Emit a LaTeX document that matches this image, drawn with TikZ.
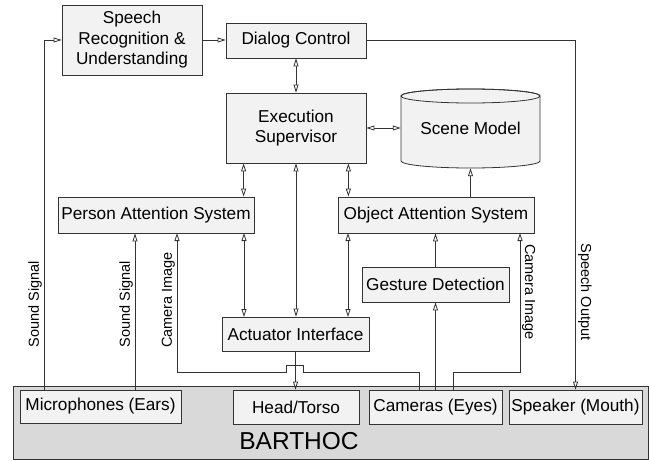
\documentclass[tikz,border=0pt]{standalone}
\usepackage{fontspec}
\setmainfont{Liberation Sans}
\usetikzlibrary{arrows.meta}
\definecolor{boxfill}{HTML}{F2F2F2}
\definecolor{basefill}{HTML}{D9D9D9}
\definecolor{linec}{HTML}{333333}
\begin{document}
\begin{tikzpicture}[x=1pt,y=-1pt,
  box/.style={draw=linec, fill=boxfill, line width=0.8pt, inner sep=1pt, align=center,
    font=\fontsize{17.2}{20.5}\selectfont},
  arr/.style={draw=linec, line width=0.8pt, -{Triangle[open,length=8pt,width=5pt,fill=white]}},
  dbl/.style={draw=linec, line width=0.8pt, {Triangle[open,length=8pt,width=5pt,fill=white]}-{Triangle[open,length=8pt,width=5pt,fill=white]}},
  lbl/.style={font=\fontsize{14.5}{16}\selectfont, inner sep=2pt},
  plain/.style={draw=linec, line width=0.8pt}]
\useasboundingbox (0,0) rectangle (649,461);
% base
\node[draw=linec, fill=basefill, line width=0.8pt, minimum width=635pt, minimum height=73pt, inner sep=0pt] (base) at (330.5,422.5) {};
\node[font=\fontsize{24.5}{26}\selectfont, inner sep=0pt] (barthoclbl) at (299,441) {BARTHOC};
% boxes
\node[box, minimum width=140pt, minimum height=70pt] (sru) at (132,40) {Speech\\Recognition \&\\Understanding};
\node[box, minimum width=140pt, minimum height=35pt] (dlg) at (296,40.5) {Dialog Control};
\node[box, minimum width=140pt, minimum height=70pt] (exe) at (296,128) {Execution\\Supervisor};
% scene model cylinder
\filldraw[draw=linec, fill=boxfill, line width=0.8pt] (401,96) -- (401,161)
  arc[start angle=180, end angle=360, x radius=69.5pt, y radius=7pt] -- (540,96)
  arc[start angle=0, end angle=180, x radius=69.5pt, y radius=7pt] -- cycle;
\draw[draw=linec, line width=0.8pt] (470.5,96) ellipse [x radius=69.5pt, y radius=7pt];
\node[minimum width=139pt, minimum height=79pt, inner sep=0pt, font=\fontsize{17.2}{20.5}\selectfont] (scene) at (470.5,128.5) {Scene Model};
\node[box, minimum width=196pt, minimum height=36pt] (pas) at (156,215) {Person Attention System};
\node[box, minimum width=196pt, minimum height=36pt] (oas) at (436,215) {Object Attention System};
\node[box, minimum width=147pt, minimum height=35pt] (ges) at (435.5,284.5) {Gesture Detection};
\node[box, minimum width=147pt, minimum height=34pt] (act) at (295.5,334) {Actuator Interface};
\node[box, minimum width=161pt, minimum height=33pt] (mic) at (100.5,406.5) {Microphones (Ears)};
\node[box, minimum width=126pt, minimum height=34pt] (head) at (296,407) {Head/Torso};
\node[box, minimum width=133pt, minimum height=34pt] (cam) at (435.5,407) {Cameras (Eyes)};
\node[box, minimum width=133pt, minimum height=34pt] (spk) at (575.5,407) {Speaker (Mouth)};
% coordinates
\coordinate (m1) at (44,390);
\coordinate (m2) at (135,390);
\coordinate (c1) at (419,390);
\coordinate (c2) at (453,390);
% connectors
\draw[arr] (m1) |- (sru.west);
\draw[arr] (sru.east) -- (sru.east -| dlg.west);
\draw[arr] (m2) -- (m2 |- pas.south);
\draw[arr] (c1) -- (419,372) -- (303,372) -- (303,365) -- (286,365) -- (286,372) -- (177,372) -- (177,233);
\draw[arr] (cam.north) -- (ges.south);
\draw[arr] (ges.north) -- (ges.north |- oas.south);
\draw[arr] (c2) -- (453,372) -- (520,372) -- (520,233);
\draw[arr] (dlg.east) -| (spk.north);
\draw[dbl] (dlg.south) -- (exe.north);
\draw[dbl] (exe.east) -- (exe.east -| scene.west);
\draw[dbl] ([xshift=18pt]exe.south west) -- ([xshift=18pt]exe.south west |- pas.north);
\draw[dbl] (exe.south) -- (exe.south |- act.north);
\draw[dbl] ([xshift=-18pt]exe.south east) -- ([xshift=-18pt]exe.south east |- oas.north);
\draw[dbl] (244,233) -- (244,317);
\draw[dbl] (348,233) -- (348,317);
\draw[arr] (scene.south |- oas.north) -- (scene.south);
\draw[arr] (act.south) -- (act.south |- head.north);
% labels
\node[lbl, rotate=90, anchor=south] (l1) at (44,304) {Sound Signal};
\node[lbl, rotate=90, anchor=south] (l2) at (135,304) {Sound Signal};
\node[lbl, rotate=90, anchor=south] (l3) at (177,300) {Camera Image};
\node[lbl, rotate=-90, anchor=south] (l4) at (520,292) {Camera Image};
\node[lbl, rotate=-90, anchor=south] (l5) at (576,292) {Speech Output};
\end{tikzpicture}
\end{document}
